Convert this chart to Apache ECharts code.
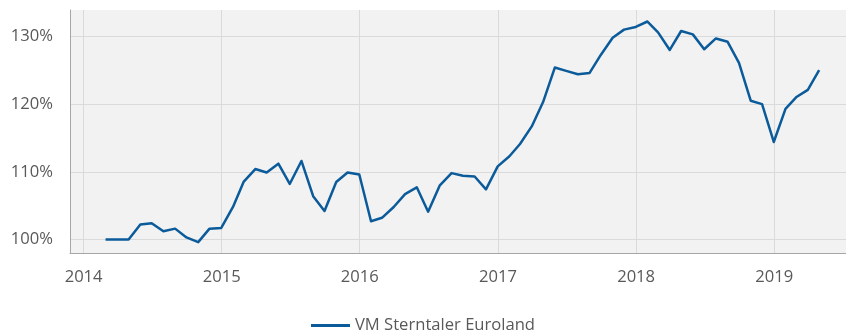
<!DOCTYPE html>
<html>
<head>
<meta charset="utf-8">
<script src="https://cdn.jsdelivr.net/npm/echarts@6/dist/echarts.min.js"></script>
<style>
  html, body { margin: 0; padding: 0; background: #ffffff; }
  #chart { width: 846px; height: 333px; }
</style>
</head>
<body>
<div id="chart"></div>
<script>
// Month-end valuation dates
const dates = [
  '2014-02-28','2014-03-31','2014-04-30','2014-05-31','2014-06-30','2014-07-31','2014-08-31','2014-09-30','2014-10-31','2014-11-30','2014-12-31',
  '2015-01-31','2015-02-28','2015-03-31','2015-04-30','2015-05-31','2015-06-30','2015-07-31','2015-08-31','2015-09-30','2015-10-31','2015-11-30','2015-12-31',
  '2016-01-31','2016-02-29','2016-03-31','2016-04-30','2016-05-31','2016-06-30','2016-07-31','2016-08-31','2016-09-30','2016-10-31','2016-11-30','2016-12-31',
  '2017-01-31','2017-02-28','2017-03-31','2017-04-30','2017-05-31','2017-06-30','2017-07-31','2017-08-31','2017-09-30','2017-10-31','2017-11-30','2017-12-31',
  '2018-01-31','2018-02-28','2018-03-31','2018-04-30','2018-05-31','2018-06-30','2018-07-31','2018-08-31','2018-09-30','2018-10-31','2018-11-30','2018-12-31',
  '2019-01-31','2019-02-28','2019-03-31','2019-04-30'
];

// Indexed performance in percent
const sterntaler = [
  100.0, 100.0, 100.0, 102.2, 102.4, 101.2, 101.6, 100.3, 99.6, 101.6, 101.7,
  104.8, 108.5, 110.4, 109.9, 111.2, 108.2, 111.6, 106.4, 104.2, 108.5, 109.9, 109.6,
  102.7, 103.2, 104.8, 106.7, 107.7, 104.1, 108.0, 109.8, 109.4, 109.3, 107.4, 110.8,
  112.3, 114.1, 116.7, 120.3, 125.4, 124.9, 124.4, 124.6, 127.3, 129.8, 131.0, 131.4,
  132.2, 130.6, 128.0, 130.8, 130.3, 128.1, 129.7, 129.2, 126.1, 120.5, 120.0, 114.4,
  119.3, 121.0, 122.1, 125.0
];

const seriesName = 'VM Sterntaler Euroland';
const yearTicks = ['2014-01-01','2015-01-01','2016-01-01','2017-01-01','2018-01-01','2019-01-01'];
const percentTicks = [100, 110, 120, 130];

// Dates are placed on a numeric (millisecond) axis
const toTime = s => { const p = s.split('-').map(Number); return new Date(p[0], p[1] - 1, p[2]).getTime(); };
const yearTickTimes = yearTicks.map(toTime);

const textColor = '#595959';
const fontFamily = '"Open Sans", "Noto Sans", sans-serif';
const fontSize = 16.6;

const chart = echarts.init(document.getElementById('chart'), null, { renderer: 'canvas' });
chart.setOption({
  animation: false,
  backgroundColor: '#ffffff',
  grid: {
    left: 70, right: 0, top: 10, bottom: 80,
    containLabel: false,
    outerBoundsMode: 'none',
    show: true,
    backgroundColor: '#f2f2f2',
    borderWidth: 0
  },
  xAxis: {
    type: 'value',
    min: toTime('2013-11-26'),
    max: toTime('2019-07-10'),
    axisLine: { show: true, onZero: false, lineStyle: { color: '#a6a6a6', width: 1 } },
    axisTick: { show: false, customValues: yearTickTimes },
    axisLabel: {
      customValues: yearTickTimes,
      formatter: v => String(new Date(v).getFullYear()),
      color: textColor, fontFamily: fontFamily, fontSize: fontSize, margin: 16
    },
    splitLine: { show: true, lineStyle: { color: '#dadada', width: 1 } }
  },
  yAxis: {
    type: 'value',
    min: 98,
    max: 133.9,
    axisLine: { show: true, lineStyle: { color: '#a6a6a6', width: 1 } },
    axisTick: { show: false, customValues: percentTicks },
    axisLabel: {
      customValues: percentTicks,
      formatter: v => v + '%',
      color: textColor, fontFamily: fontFamily, fontSize: fontSize, margin: 17
    },
    splitLine: { show: true, lineStyle: { color: '#dadada', width: 1 } }
  },
  legend: {
    bottom: -6,
    left: 'center',
    icon: 'rect',
    itemWidth: 39,
    itemHeight: 3,
    itemGap: 10,
    textStyle: { color: textColor, fontFamily: fontFamily, fontSize: fontSize },
    data: [seriesName]
  },
  series: [{
    name: seriesName,
    type: 'line',
    data: dates.map((d, i) => [toTime(d), sterntaler[i]]),
    symbol: 'none',
    lineStyle: { color: '#0b5b9b', width: 2.5, join: 'round' },
    itemStyle: { color: '#0b5b9b' }
  }]
});
</script>
</body>
</html>
